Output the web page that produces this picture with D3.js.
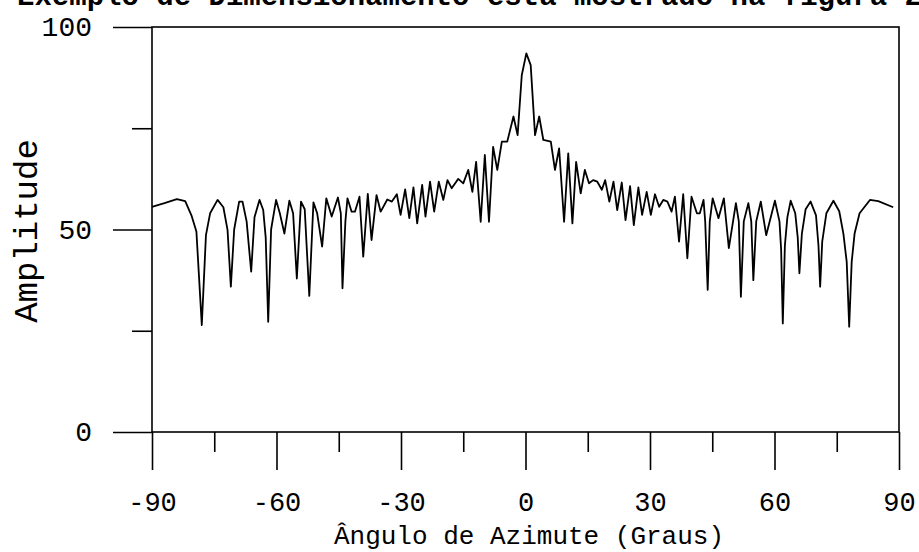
<!DOCTYPE html>
<html>
<head>
<meta charset="utf-8">
<script src="https://cdn.jsdelivr.net/npm/d3@7"></script>
<style>
  html, body { margin: 0; padding: 0; background: #fff; }
  svg { display: block; }
  text { font-family: "Liberation Mono", "DejaVu Sans Mono", monospace; fill: #000; }
</style>
</head>
<body>
<div id="chart"></div>
<script>
// Beam pattern (angle in degrees, amplitude)
const angles = [
  -90, -87, -84, -82, -80.5, -79.3, -78.0, -77.0, -76.0, -74.2, -72.8, -71.8, -71.0, -70.2,
  -69.0, -68.2, -67.2, -66.1, -65.3, -64.1, -63.2, -62.6, -62.0, -61.3, -60.1, -59.2, -58.1,
  -56.9, -56.0, -55.1, -54.1, -53.2, -52.1, -51.1, -50.2, -49.0, -48.0, -46.7, -45.2, -44.5,
  -44.1, -43.4, -42.9, -41.9, -41.1, -40.0, -39.1, -38.0, -37.1, -35.9, -34.9, -33.3, -32.2,
  -31.0, -30.1, -29.0, -28.0, -27.0, -26.1, -24.9, -24.1, -23.0, -22.0, -20.9, -19.8, -18.8,
  -17.8, -16.2, -15.0, -13.8, -12.8, -11.9, -10.8, -9.8, -8.8, -7.8, -6.8, -5.7, -4.4, -2.9,
  -1.9, -0.9, 0.2, 1.25, 2.3, 3.3, 4.3, 6.1, 7.1, 8.1, 9.3, 10.3, 11.3, 12.2, 13.3, 14.3,
  15.3, 16.3, 17.3, 18.4, 19.2, 20.2, 21.2, 22.1, 23.2, 24.1, 25.2, 26.1, 27.2, 28.1, 29.2,
  30.2, 31.2, 32.2, 33.2, 34.2, 35.2, 36.0, 37.0, 38.0, 39.0, 40.0, 41.3, 42.0, 42.9, 43.3,
  43.9, 44.4, 45.1, 46.5, 47.8, 49.0, 50.7, 51.4, 51.9, 52.6, 53.7, 54.4, 54.9, 55.6, 56.7,
  58.0, 60.1, 61.2, 61.6, 62.0, 62.5, 63.1, 63.9, 65.0, 65.6, 66.0, 66.6, 67.5, 68.7, 70.0,
  70.6, 71.0, 71.5, 72.5, 74.2, 75.6, 76.6, 77.4, 78.0, 78.6, 79.3, 80.5, 83.0, 85.0, 88.6
];
const amplitudes = [
  55.6, 56.5, 57.5, 57.0, 53.5, 49.5, 26.4, 48.6, 54.0, 57.3, 55.5, 49.9, 35.9, 50.0,
  56.9, 56.9, 52.0, 39.6, 53.0, 57.3, 54.8, 48.0, 27.2, 50.0, 57.3, 54.0, 49.0,
  57.1, 54.0, 37.9, 56.9, 55.0, 33.6, 56.7, 54.0, 45.8, 57.7, 53.2, 57.9, 54.0,
  35.5, 52.0, 57.7, 54.4, 54.4, 58.1, 43.3, 58.8, 47.4, 58.5, 54.4, 57.4, 56.9,
  58.7, 53.6, 59.9, 52.8, 60.4, 51.5, 61.0, 53.2, 61.8, 54.4, 61.8, 57.3, 62.2,
  60.2, 62.5, 61.4, 64.7, 59.3, 66.7, 51.9, 68.4, 51.9, 70.4, 64.7, 71.7, 71.7, 77.9,
  73.3, 88.1, 93.5, 90.6, 73.3, 77.9, 72.1, 71.7, 64.7, 70.0, 51.9, 68.8, 51.5, 66.7, 58.9, 64.7,
  61.4, 62.2, 61.8, 59.8, 62.2, 56.9, 61.8, 54.8, 61.6, 52.3, 60.7, 51.1, 60.4, 53.6, 59.3,
  53.6, 58.7, 55.6, 57.3, 56.9, 54.4, 58.1, 47.0, 58.7, 42.9, 58.1, 54.0, 54.0, 57.3, 52.0,
  35.1, 52.0, 57.7, 52.8, 57.7, 45.4, 56.5, 52.0, 33.4, 52.0, 56.5, 52.0, 37.5, 52.0, 56.9,
  48.6, 57.1, 52.0, 45.0, 26.8, 46.0, 53.0, 57.1, 54.0, 48.0, 39.2, 49.0, 55.0, 56.9, 53.5,
  46.0, 35.9, 47.0, 54.0, 57.1, 54.5, 49.0, 42.0, 26.0, 42.0, 49.0, 54.0, 57.3, 57.0, 55.5
];

const xMajorTicks = [-90, -60, -30, 0, 30, 60, 90];
const xMinorTicks = [-75, -45, -15, 15, 45, 75];
const yMajorTicks = [0, 50, 100];
const yMinorTicks = [25, 75];

const topCaption = 'Exemplo de Dimensionamento está mostrado na figura 2';
const xTitle = 'Ângulo de Azimute (Graus)';
const yTitle = 'Amplitude';

const width = 919;
const height = 552;
const margin = { left: 152, right: 20, top: 27, bottom: 120 };

const svg = d3.select('#chart')
  .append('svg')
  .attr('width', width)
  .attr('height', height);

const x = d3.scaleLinear().domain([-90, 90]).range([margin.left, width - margin.right]);
const y = d3.scaleLinear().domain([0, 100]).range([height - margin.bottom, margin.top]);

// Caption cut off by the top of the scan
svg.append('text')
  .attr('x', 922)
  .attr('y', 5)
  .attr('text-anchor', 'end')
  .style('font-size', '29px')
  .style('font-weight', 'bold')
  .text(topCaption);

// Plot frame
svg.append('rect')
  .attr('x', x(-90))
  .attr('y', y(100))
  .attr('width', x(90) - x(-90))
  .attr('height', y(0) - y(100))
  .attr('fill', 'none')
  .attr('stroke', '#000')
  .attr('stroke-width', 1.6);

// X axis: long labelled ticks and short unlabelled ones
const xAxisMajor = svg.append('g')
  .attr('transform', `translate(0,${y(0)})`)
  .call(d3.axisBottom(x).tickValues(xMajorTicks).tickSize(38).tickPadding(22)
    .tickFormat(d => d < 0 ? '-' + Math.abs(d) : String(d)));
xAxisMajor.select('.domain').remove();
xAxisMajor.selectAll('line').attr('stroke-width', 1.6);
xAxisMajor.selectAll('text').style('font-size', '27px').style('font-family', '"Liberation Mono", monospace');

const xAxisMinor = svg.append('g')
  .attr('transform', `translate(0,${y(0)})`)
  .call(d3.axisBottom(x).tickValues(xMinorTicks).tickSize(20).tickFormat(''));
xAxisMinor.select('.domain').remove();
xAxisMinor.selectAll('line').attr('stroke-width', 1.6);

// Y axis
const yAxisMajor = svg.append('g')
  .attr('transform', `translate(${x(-90)},0)`)
  .call(d3.axisLeft(y).tickValues(yMajorTicks).tickSize(39).tickPadding(21));
yAxisMajor.select('.domain').remove();
yAxisMajor.selectAll('line').attr('stroke-width', 1.6);
yAxisMajor.selectAll('text').style('font-size', '28px').style('font-family', '"Liberation Mono", monospace');

const yAxisMinor = svg.append('g')
  .attr('transform', `translate(${x(-90)},0)`)
  .call(d3.axisLeft(y).tickValues(yMinorTicks).tickSize(20).tickFormat(''));
yAxisMinor.select('.domain').remove();
yAxisMinor.selectAll('line').attr('stroke-width', 1.6);

// Axis titles
svg.append('text')
  .attr('x', 529)
  .attr('y', 544)
  .attr('text-anchor', 'middle')
  .style('font-size', '26px')
  .text(xTitle);

svg.append('text')
  .attr('transform', 'translate(37,231) rotate(-90)')
  .attr('text-anchor', 'middle')
  .style('font-size', '34px')
  .text(yTitle);

// Pattern curve
const points = angles.map((a, i) => [a, amplitudes[i]]);
const line = d3.line()
  .x(d => x(d[0]))
  .y(d => y(d[1]));

svg.append('path')
  .datum(points)
  .attr('d', line)
  .attr('fill', 'none')
  .attr('stroke', '#000')
  .attr('stroke-width', 1.8)
  .attr('stroke-linejoin', 'round');
</script>
</body>
</html>
